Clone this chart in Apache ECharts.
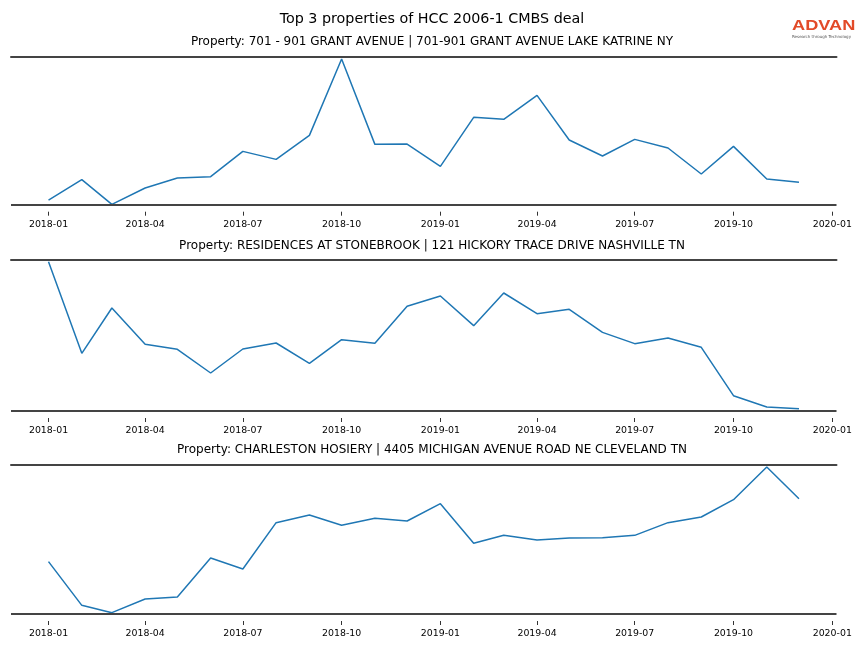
<!DOCTYPE html>
<html>
<head>
<meta charset="utf-8">
<script src="https://cdn.jsdelivr.net/npm/echarts@6/dist/echarts.min.js"></script>
<style>html,body{margin:0;padding:0;background:#fff}#c{width:864px;height:648px}</style>
</head>
<body>
<div id="c"></div>
<script>
const mainTitle = "Top 3 properties of HCC 2006-1 CMBS deal";
const panelTitles = [
  "Property: 701 - 901 GRANT AVENUE | 701-901 GRANT AVENUE LAKE KATRINE NY",
  "Property: RESIDENCES AT STONEBROOK | 121 HICKORY TRACE DRIVE NASHVILLE TN",
  "Property: CHARLESTON HOSIERY | 4405 MICHIGAN AVENUE ROAD NE CLEVELAND TN"
];
const months = ["2018-01","2018-02","2018-03","2018-04","2018-05","2018-06","2018-07","2018-08","2018-09","2018-10","2018-11","2018-12",
                "2019-01","2019-02","2019-03","2019-04","2019-05","2019-06","2019-07","2019-08","2019-09","2019-10","2019-11","2019-12"];
const tickLabels = ["2018-01","2018-04","2018-07","2018-10","2019-01","2019-04","2019-07","2019-10","2020-01"];
// relative values (no y scale shown in the reference)
const series1 = [14, 75, 1, 50, 80, 84, 160, 136, 208, 437, 181, 182, 115, 262, 256, 328, 194, 146, 196, 170, 92, 175, 77, 67];
const series2 = [448, 173, 309, 200, 185, 114, 186, 204, 143, 214, 203, 314, 345, 256, 354, 292, 305, 236, 202, 219, 191, 46, 12, 7];
const series3 = [157, 26, 4, 45, 51, 168, 135, 274, 297, 266, 287, 279, 331, 212, 236, 222, 228, 229, 236, 274, 291, 343, 441, 346];
const yTops = [444, 453, 447];

const toTs = s => { const [y, m] = s.split('-').map(Number); return Date.UTC(y, m - 1, 1); };
const monthTs = months.map(toTs);
const tickTs = tickLabels.map(toTs);
const margin = (monthTs[monthTs.length - 1] - monthTs[0]) * 0.05;
const xMin = monthTs[0] - margin;
const xMax = monthTs[monthTs.length - 1] + margin;
const labelOf = v => { const i = tickTs.indexOf(v); return i >= 0 ? tickLabels[i] : ''; };

const allSeries = [series1, series2, series3];
const grids = [
  {left: 11, right: 27.5, top: 56.7, height: 148},
  {left: 11, right: 27.5, top: 260, height: 151},
  {left: 11, right: 27.5, top: 465, height: 149}
];
const titleYs = [42, 246, 450];
const FONT = "DejaVu Sans";
const SPINE = {color: '#444', width: 2};

const xAxes = [], yAxes = [], seriesOpt = [], titles = [];
titles.push({text: mainTitle, left: 'center', top: 19 - 7.2, padding: 0, textStyle: {fontFamily: FONT, fontSize: 14.3, lineHeight: 14.3, fontWeight: 'normal', color: '#000'}});
grids.forEach((g, i) => {
  titles.push({text: panelTitles[i], left: 'center', top: titleYs[i] - 6, padding: 0, textStyle: {fontFamily: FONT, fontSize: 12, lineHeight: 12, fontWeight: 'normal', color: '#000'}});
  xAxes.push({
    type: 'value', gridIndex: i, min: xMin, max: xMax, position: 'bottom', offset: 7, scale: true,
    axisLine: {show: false, onZero: false},
    axisTick: {show: true, customValues: tickTs, length: 4, lineStyle: {color: '#333', width: 1}},
    axisLabel: {show: true, customValues: tickTs, formatter: v => labelOf(v), fontFamily: FONT, fontSize: 9.4, color: '#000', margin: 8, showMinLabel: true, showMaxLabel: true},
    splitLine: {show: false}
  });
  xAxes.push({
    type: 'value', gridIndex: i, min: xMin, max: xMax, position: 'top', scale: true,
    axisLine: {show: true, onZero: false, lineStyle: SPINE},
    axisTick: {show: false}, axisLabel: {show: false}, splitLine: {show: false}
  });
  yAxes.push({type: 'value', gridIndex: i, min: 0, max: yTops[i], show: false, splitLine: {show: false}});
  seriesOpt.push({
    type: 'line', xAxisIndex: i * 2, yAxisIndex: i, showSymbol: false, symbol: 'none',
    lineStyle: {color: '#1f77b4', width: 1.5}, animation: false,
    data: monthTs.map((t, k) => [t, allSeries[i][k]]),
    markLine: {silent: true, symbol: 'none', label: {show: false}, animation: false,
      lineStyle: {type: 'solid', color: SPINE.color, width: SPINE.width},
      data: [{yAxis: 0}]}
  });
});

const chart = echarts.init(document.getElementById('c'), null, {renderer: 'canvas'});
chart.setOption({
  animation: false,
  backgroundColor: '#fff',
  title: titles,
  grid: grids,
  xAxis: xAxes,
  yAxis: yAxes,
  series: seriesOpt,
  graphic: [
    {type: 'text', x: 792, y: 19, scaleX: 1.3, style: {text: 'ADVAN', fontFamily: 'Liberation Sans', fontWeight: 'bold', fontSize: 14, fill: '#E24A28', textVerticalAlign: 'top'}},
    {type: 'text', x: 792, y: 34.5, style: {text: 'Research through Technology', fontFamily: FONT, fontSize: 4, fill: '#555', textVerticalAlign: 'top'}}
  ]
});
</script>
</body>
</html>
